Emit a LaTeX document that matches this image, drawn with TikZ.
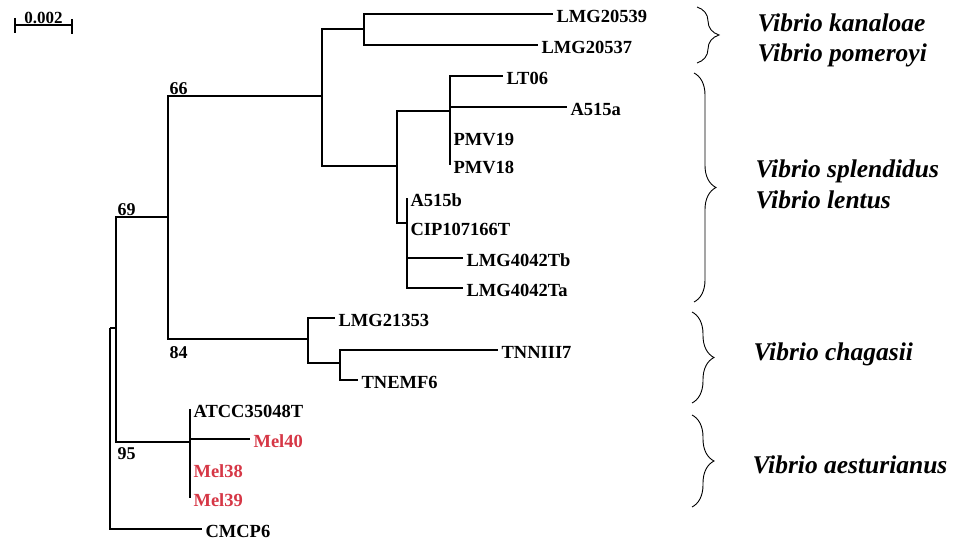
\documentclass[tikz,border=0pt]{standalone}
\usepackage{fontspec}
\setmainfont{Liberation Serif}
\usetikzlibrary{calc,decorations.pathreplacing}
\definecolor{melred}{RGB}{214,55,70}
\tikzset{
  tip/.style={anchor=west, inner sep=3pt, text height=17pt, text depth=0pt, font=\fontsize{18.5}{20}\selectfont\bfseries},
  support/.style={inner sep=1pt, font=\fontsize{18}{20}\selectfont\bfseries},
  species/.style={anchor=base west, inner sep=0pt, font=\fontsize{25.5}{28}\selectfont\bfseries\itshape},
  clade/.style={decorate, decoration={brace, amplitude=22pt}, line width=0.9pt}
}
\begin{document}
\begin{tikzpicture}[x=1pt, y=-1pt, line width=1.1pt]
    \useasboundingbox (0,0) rectangle (963,540);
    % scale bar
    \coordinate (sL) at (15,25);
    \coordinate (sR) at (72,25);
    \draw (sL) -- (sR) (sL) ++(0,-7) -- ++(0,15) (sR) ++(0,-6) -- ++(0,15);
    \node[support, anchor=base, font=\fontsize{17}{19}\selectfont\bfseries] (scl) at ($(sL)!0.5!(sR)+(0,-1)$) {0.002};
    % inner nodes of the tree
    \foreach \n/\x/\y in {R/110/328, n0/116/328, n69/168/217, n95/190/442, n66/322/96, n84/308/339,
                          nA/364/29, nB/397/166, nC/450/111, nD/407/223, nE/340/363}
        \coordinate (\n) at (\x,\y);
    % leaves
    \foreach \x/\y/\lbl in {553/14/LMG20539, 538/45/LMG20537, 503/76/LT06, 567/107/A515a,
                            450/137/PMV19, 450/165/PMV18, 407/198/A515b, 407/227/CIP107166T,
                            463/258/LMG4042Tb, 463/288/LMG4042Ta, 335/318/LMG21353,
                            498/350/TNNIII7, 358/380/TNEMF6, 190/409/ATCC35048T, 202/529/CMCP6}
        \node[tip] (\lbl) at (\x,\y) {\lbl};
    \foreach \x/\y/\lbl in {250/439/Mel40, 190/469/Mel38, 190/498/Mel39}
        \node[tip, text=melred] (\lbl) at (\x,\y) {\lbl};
    % branches
    \foreach \p/\c in {R/n0, n0/n69, n0/n95, n69/n66, n69/n84, n66/nA, n66/nB, nB/nC, nB/nD, n84/nE}
        \draw (\p) |- (\c);
    \foreach \p/\c in {nA/LMG20539, nA/LMG20537, nC/LT06, nC/A515a, nC/PMV19, nC/PMV18,
                       nD/A515b, nD/CIP107166T, nD/LMG4042Tb, nD/LMG4042Ta, n84/LMG21353,
                       nE/TNNIII7, nE/TNEMF6, n95/ATCC35048T, n95/Mel40, n95/Mel38, n95/Mel39, R/CMCP6}
        \draw (\p) |- (\c.west);
    % bootstrap values
    \node[support, anchor=south west] (b66) at (n69 |- n66) {66};
    \node[support, anchor=south west] (b69) at (n0 |- n69) {69};
    \node[support, anchor=north west, inner ysep=7pt] (b84) at (n69 |- n84) {84};
    \node[support, anchor=north west, inner ysep=5pt] (b95) at (n0 |- n95) {95};
    % species
    \foreach \x/\y/\sp in {757/32/kanaloae, 757/62/pomeroyi, 755/178/splendidus, 755/208/lentus,
                           753/360/chagasii, 752/473/aesturianus}
        \node[species] (\sp) at (\x,\y) {Vibrio \sp};
    \foreach \x/\ya/\yb in {697/7/63, 694/73/302, 692/312/403, 692/415/507}
        \draw[clade] (\x,\ya) -- (\x,\yb);
\end{tikzpicture}
\end{document}
